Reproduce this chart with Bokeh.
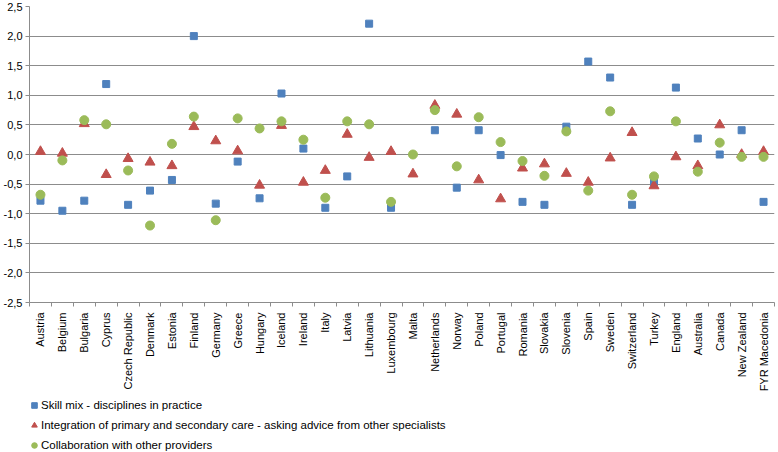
import math
from bokeh.plotting import figure
from bokeh.layouts import column
from bokeh.models import (ColumnDataSource, FixedTicker, CustomJSTickFormatter,
                          Range1d, Legend, LegendItem)
from bokeh.embed import file_html
from bokeh.resources import INLINE

countries = ["Austria", "Belgium", "Bulgaria", "Cyprus", "Czech Republic", "Denmark",
             "Estonia", "Finland", "Germany", "Greece", "Hungary", "Iceland", "Ireland",
             "Italy", "Latvia", "Lithuania", "Luxembourg", "Malta", "Netherlands",
             "Norway", "Poland", "Portugal", "Romania", "Slovakia", "Slovenia", "Spain",
             "Sweden", "Switzerland", "Turkey", "England", "Australia", "Canada",
             "New Zealand", "FYR Macedonia"]

skill_mix = [-0.78, -0.95, -0.78, 1.19, -0.85, -0.61, -0.43, 2.00, -0.83, -0.12, -0.74,
             1.03, 0.10, -0.90, -0.37, 2.21, -0.90, float("nan"), 0.41, -0.56, 0.41,
             -0.01, -0.80, -0.85, 0.47, 1.57, 1.30, -0.85, -0.47, 1.13, 0.27, 0.00,
             0.41, -0.80]

integration = [0.05, 0.02, 0.52, -0.34, -0.07, -0.13, -0.19, 0.47, 0.23, 0.06, -0.52,
               0.49, -0.47, -0.27, 0.34, -0.05, 0.05, -0.33, 0.83, 0.68, -0.43, -0.75,
               -0.23, -0.16, -0.32, -0.47, -0.06, 0.37, -0.53, -0.04, -0.19, 0.50,
               0.00, 0.05]

collaboration = [-0.68, -0.10, 0.58, 0.51, -0.27, -1.20, 0.18, 0.64, -1.11, 0.61, 0.44,
                 0.56, 0.25, -0.73, 0.56, 0.51, -0.80, 0.00, 0.75, -0.20, 0.63, 0.21,
                 -0.11, -0.36, 0.39, -0.61, 0.73, -0.68, -0.37, 0.56, -0.29, 0.20,
                 -0.04, -0.04]

series_names = ["Skill mix - disciplines in practice",
                "Integration of primary and secondary care - asking advice from other specialists",
                "Collaboration with other providers"]

y_ticks = [-2.5, -2.0, -1.5, -1.0, -0.5, 0.0, 0.5, 1.0, 1.5, 2.0, 2.5]

n = len(countries)
xs = [i + 0.5 for i in range(n)]
src = ColumnDataSource(dict(x=xs, a=skill_mix, b=integration, c=collaboration))

FONT = "Liberation Sans"
GRID = "#8c8c8c"
BLUE, RED, GREEN = "#4F81BD", "#C0504D", "#9BBB59"

p = figure(frame_width=745, frame_height=296, output_backend="svg", toolbar_location=None,
           x_range=Range1d(0, n), y_range=Range1d(-2.5, 2.5),
           min_border_left=25, min_border_top=6, min_border_right=2, min_border_bottom=90)
p.outline_line_color = None
p.background_fill_color = "white"
p.border_fill_color = "white"

p.scatter("x", "a", source=src, marker="square", size=7, color=BLUE)
p.scatter("x", "b", source=src, marker="triangle", size=10, color=RED)
p.scatter("x", "c", source=src, marker="circle", size=9, color=GREEN)

# y axis
p.yaxis.ticker = FixedTicker(ticks=y_ticks)
p.yaxis.formatter = CustomJSTickFormatter(code="return tick.toFixed(1).replace('.', ',');")
p.yaxis.axis_line_color = GRID
p.yaxis.major_tick_line_color = GRID
p.yaxis.major_tick_out = 4
p.yaxis.major_tick_in = 0
p.yaxis.minor_tick_line_color = None
p.yaxis.major_label_text_font = FONT
p.yaxis.major_label_text_font_size = "11px"
p.yaxis.major_label_text_color = "black"
p.yaxis.major_label_standoff = 3

p.ygrid.ticker = FixedTicker(ticks=y_ticks)
p.ygrid.grid_line_color = GRID
p.ygrid.grid_line_width = 1
p.xgrid.grid_line_color = None

# x axis: labels at centers, tick marks at boundaries
p.xaxis.ticker = FixedTicker(ticks=xs, minor_ticks=list(range(n + 1)))
p.xaxis.major_label_overrides = {x: c for x, c in zip(xs, countries)}
p.xaxis.major_label_orientation = math.pi / 2
p.xaxis.major_tick_out = 0
p.xaxis.major_tick_in = 0
p.xaxis.minor_tick_out = 4
p.xaxis.minor_tick_in = 0
p.xaxis.minor_tick_line_color = GRID
p.xaxis.axis_line_color = GRID
p.xaxis.major_label_text_font = FONT
p.xaxis.major_label_text_font_size = "11px"
p.xaxis.major_label_text_color = "black"
p.xaxis.major_label_standoff = 6

# legend panel (separate figure below the chart)
lg = figure(width=772, height=61, output_backend="svg", toolbar_location=None,
            x_range=Range1d(0, 1), y_range=Range1d(0, 1),
            x_axis_type=None, y_axis_type=None,
            min_border_left=0, min_border_right=0, min_border_top=0, min_border_bottom=0)
lg.outline_line_color = None
lg.xgrid.grid_line_color = None
lg.ygrid.grid_line_color = None
g1 = lg.scatter(x=[-5], y=[-5], marker="square", size=7, color=BLUE)
g2 = lg.scatter(x=[-5], y=[-5], marker="triangle", size=10, color=RED)
g3 = lg.scatter(x=[-5], y=[-5], marker="circle", size=9, color=GREEN)

legend = Legend(items=[LegendItem(label=series_names[0], renderers=[g1]),
                       LegendItem(label=series_names[1], renderers=[g2]),
                       LegendItem(label=series_names[2], renderers=[g3])],
                orientation="vertical", location=(-2, 0))
legend.border_line_color = None
legend.background_fill_alpha = 0
legend.label_text_font = FONT
legend.label_text_font_size = "11.5px"
legend.label_text_color = "black"
legend.glyph_width = 14
legend.glyph_height = 20
legend.label_height = 20
legend.spacing = 0
legend.padding = 0
legend.margin = 0
legend.label_standoff = 0
lg.add_layout(legend, "center")

layout = column(p, lg, spacing=0)
open("out.html", "w").write(file_html(layout, INLINE))
